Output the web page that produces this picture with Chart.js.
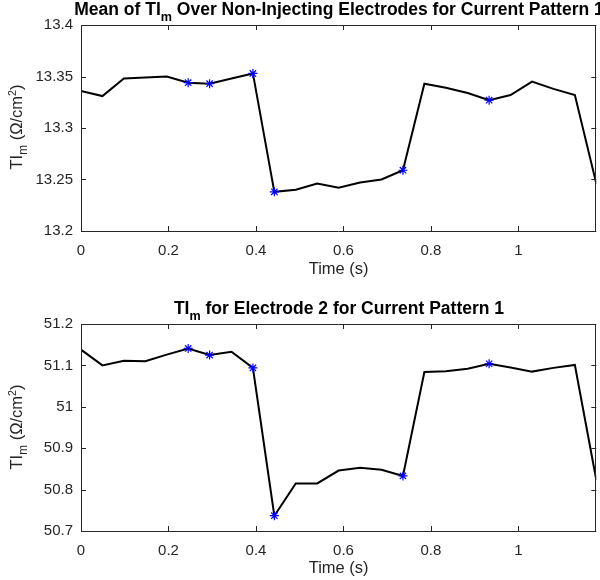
<!DOCTYPE html>
<html>
<head>
<meta charset="utf-8">
<script src="https://cdn.jsdelivr.net/npm/chart.js@4.4.1/dist/chart.umd.min.js"></script>
<style>
  html, body { margin: 0; padding: 0; background: #fff; overflow: hidden; }
  #wrap { position: relative; width: 600px; height: 580px; overflow: hidden; font-family: "Liberation Sans", Arial, sans-serif; }
  .panel { position: absolute; left: 0; width: 602px; height: 290px; }
  .title { position: absolute; left: 0; width: 678px; text-align: center; white-space: nowrap;
           font-weight: bold; font-size: 17.5px; line-height: 20px; color: #000; }
  .ylab { position: absolute; white-space: nowrap; font-size: 16.5px; color: #262626;
          transform: translate(-50%, -50%) rotate(-90deg); }
  sub { font-size: 72%; vertical-align: -0.45em; line-height: 0; }
  sup { font-size: 65%; vertical-align: 0.55em; line-height: 0; }
</style>
</head>
<body>
<div id="wrap">
  <div class="panel" style="top:0"><canvas id="topChart"></canvas></div>
  <div class="panel" style="top:290px"><canvas id="bottomChart"></canvas></div>
  <div class="title" style="top:-1px">Mean of TI<sub>m</sub> Over Non-Injecting Electrodes for Current Pattern 1</div>
  <div class="title" style="top:298px">TI<sub>m</sub> for Electrode 2 for Current Pattern 1</div>
  <div class="ylab" style="left:16px; top:127px">TI<sub>m</sub> (&Omega;/cm<sup>2</sup>)</div>
  <div class="ylab" style="left:16px; top:427px">TI<sub>m</sub> (&Omega;/cm<sup>2</sup>)</div>
</div>
<script>
const times = [0, 0.049, 0.098, 0.147, 0.196, 0.245, 0.294, 0.344, 0.393, 0.442, 0.491, 0.540,
  0.589, 0.638, 0.687, 0.736, 0.785, 0.834, 0.884, 0.933, 0.982, 1.031, 1.080, 1.129, 1.178];
const meanTI = [13.336, 13.331, 13.348, 13.349, 13.350, 13.344, 13.343, 13.348, 13.353, 13.238,
  13.240, 13.246, 13.242, 13.247, 13.250, 13.259, 13.343, 13.339, 13.334, 13.327, 13.332, 13.345,
  13.338, 13.332, 13.246];
const electrode2TI = [51.138, 51.100, 51.111, 51.110, 51.126, 51.141, 51.125, 51.133, 51.094, 50.737,
  50.815, 50.815, 50.846, 50.853, 50.848, 50.833, 51.084, 51.086, 51.092, 51.104, 51.095, 51.085,
  51.094, 51.101, 50.823];
const starIdx = [5, 6, 8, 9, 15, 19];

const axisColor = '#262626';
const tickFont = { family: 'Liberation Sans', size: 15 };
const labelFont = { family: 'Liberation Sans', size: 16.5 };

// MATLAB style box with ticks pointing inwards on all four sides
const boxTicks = {
  id: 'boxTicks',
  afterDraw(chart) {
    const { ctx, chartArea: a, scales: { x, y } } = chart;
    const len = 5;
    ctx.save();
    ctx.strokeStyle = axisColor;
    ctx.lineWidth = 1;
    ctx.beginPath();
    x.ticks.forEach(t => {
      const px = Math.round(x.getPixelForValue(t.value)) + 0.5;
      ctx.moveTo(px, a.bottom); ctx.lineTo(px, a.bottom - len);
      ctx.moveTo(px, a.top); ctx.lineTo(px, a.top + len);
    });
    y.ticks.forEach(t => {
      const py = Math.round(y.getPixelForValue(t.value)) + 0.5;
      ctx.moveTo(a.left, py); ctx.lineTo(a.left + len, py);
      ctx.moveTo(a.right, py); ctx.lineTo(a.right - len, py);
    });
    ctx.rect(Math.round(a.left) + 0.5, Math.round(a.top) + 0.5,
             Math.round(a.right - a.left) - 1, Math.round(a.bottom - a.top));
    ctx.stroke();
    ctx.restore();
  }
};

const fmt = v => String(parseFloat(Number(v).toFixed(4)));

function makeChart(id, values, yMin, yMax, yStep, top, xHeight, titlePad) {
  const line = times.map((t, i) => ({ x: t, y: values[i] }));
  const stars = starIdx.map(i => ({ x: times[i], y: values[i] }));
  return new Chart(document.getElementById(id), {
    type: 'line',
    data: {
      datasets: [
        { data: stars, showLine: false, pointStyle: 'star', pointRadius: 4.5,
          borderColor: '#0000ff', backgroundColor: '#0000ff', pointBorderWidth: 1.2, order: 0 },
        { data: line, borderColor: '#000', borderWidth: 2, pointRadius: 0, tension: 0,
          fill: false, order: 1 }
      ]
    },
    options: {
      responsive: true,
      maintainAspectRatio: false,
      animation: false,
      layout: { padding: { top: top, right: 0, left: 0, bottom: 0 } },
      plugins: { legend: { display: false }, tooltip: { enabled: false }, title: { display: false } },
      scales: {
        x: {
          type: 'linear', min: 0, max: 1.178,
          grid: { display: false, drawTicks: false }, border: { display: false },
          ticks: { stepSize: 0.2, includeBounds: false, color: axisColor, font: tickFont,
                   padding: 11, maxRotation: 0, callback: fmt },
          title: { display: true, text: 'Time (s)', color: axisColor, font: labelFont,
                   padding: { top: 0, bottom: titlePad } },
          afterFit(s) { s.height = xHeight; }
        },
        y: {
          min: yMin, max: yMax,
          grid: { display: false, drawTicks: false }, border: { display: false },
          ticks: { stepSize: yStep, color: axisColor, font: tickFont, padding: 8, callback: fmt },
          afterFit(s) { s.width = 81; }
        }
      }
    },
    plugins: [boxTicks]
  });
}

makeChart('topChart', meanTI, 13.2, 13.4, 0.05, 25, 59, 11);
makeChart('bottomChart', electrode2TI, 50.7, 51.2, 0.1, 34, 49, 2);
</script>
</body>
</html>
